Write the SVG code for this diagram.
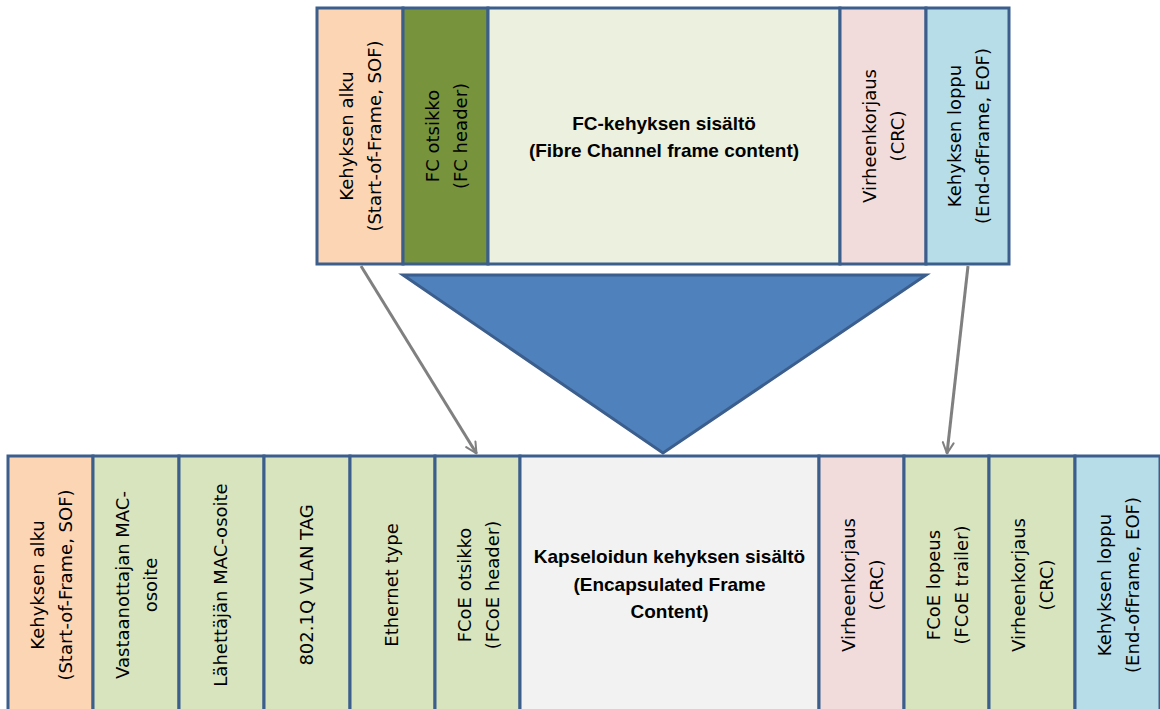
<svg xmlns="http://www.w3.org/2000/svg" width="1160" height="709" viewBox="0 0 1160 709">
<style>
.cell{stroke:#3B5E8C;stroke-width:3}
.sof{fill:#FCD5B5}
.fch{fill:#77933C}
.fcc{fill:#EBF1DE}
.crc{fill:#F2DCDB}
.eof{fill:#B7DEE8}
.grn{fill:#D7E4BD}
.enc{fill:#F2F2F2}
.t{font-family:"DejaVu Sans",sans-serif;font-size:18px;fill:#000;text-anchor:middle}
.b{font-family:"Liberation Sans",Arial,sans-serif;font-size:19px;font-weight:bold;fill:#000;text-anchor:middle}
.conn{stroke:#808080;stroke-width:3;fill:none}
</style>
<defs>
<marker id="ah" viewBox="0 0 10 10" refX="9" refY="5" markerWidth="4.5" markerHeight="4.5" orient="auto" markerUnits="strokeWidth">
<path d="M1,1 L9,5 L1,9" fill="none" stroke="#808080" stroke-width="1.5" stroke-linecap="round" stroke-linejoin="round"/>
</marker>
</defs>
<rect width="1160" height="709" fill="#FFFFFF"/>

<g id="fc-frame">
<g id="fc-sof"><rect class="cell sof" x="317" y="8" width="86" height="256"/>
<text class="t" transform="translate(360,136) rotate(-90)"><tspan x="0" y="-7">Kehyksen alku</tspan><tspan x="0" y="21">(Start-of-Frame, SOF)</tspan></text></g>
<g id="fc-header"><rect class="cell fch" x="403" y="8" width="85" height="256"/>
<text class="t" transform="translate(445.5,136) rotate(-90)"><tspan x="0" y="-7">FC otsikko</tspan><tspan x="0" y="21">(FC header)</tspan></text></g>
<g id="fc-content"><rect class="cell fcc" x="488" y="8" width="352" height="256"/>
<text class="b" x="664" y="130">FC-kehyksen sisältö</text>
<text class="b" x="664" y="157">(Fibre Channel frame content)</text></g>
<g id="fc-crc"><rect class="cell crc" x="840" y="8" width="86" height="256"/>
<text class="t" transform="translate(883,136) rotate(-90)"><tspan x="0" y="-7">Virheenkorjaus</tspan><tspan x="0" y="21">(CRC)</tspan></text></g>
<g id="fc-eof"><rect class="cell eof" x="926" y="8" width="83" height="256"/>
<text class="t" transform="translate(967.5,136) rotate(-90)"><tspan x="0" y="-7">Kehyksen loppu</tspan><tspan x="0" y="21">(End-ofFrame, EOF)</tspan></text></g>
</g>

<g id="encapsulation">
<polygon points="403,275 926,275 663,453" fill="#4F81BD" stroke="#3B5E8C" stroke-width="3" stroke-linejoin="miter"/>
</g>

<g id="fcoe-frame">
<g id="e-sof"><rect class="cell sof" x="8" y="456" width="85" height="262"/>
<text class="t" transform="translate(50.5,585) rotate(-90)"><tspan x="0" y="-7">Kehyksen alku</tspan><tspan x="0" y="21">(Start-of-Frame, SOF)</tspan></text></g>
<g id="e-dst"><rect class="cell grn" x="93" y="456" width="86" height="262"/>
<text class="t" transform="translate(136,585) rotate(-90)"><tspan x="0" y="-7">Vastaanottajan MAC-</tspan><tspan x="0" y="21">osoite</tspan></text></g>
<g id="e-src"><rect class="cell grn" x="179" y="456" width="85" height="262"/>
<text class="t" transform="translate(221.5,585) rotate(-90)"><tspan x="0" y="5.5">Lähettäjän MAC-osoite</tspan></text></g>
<g id="e-vlan"><rect class="cell grn" x="264" y="456" width="86" height="262"/>
<text class="t" transform="translate(307,585) rotate(-90)"><tspan x="0" y="5.5">802.1Q VLAN TAG</tspan></text></g>
<g id="e-type"><rect class="cell grn" x="350" y="456" width="85" height="262"/>
<text class="t" transform="translate(392.5,585) rotate(-90)"><tspan x="0" y="5.5">Ethernet type</tspan></text></g>
<g id="e-fcoeh"><rect class="cell grn" x="435" y="456" width="85" height="262"/>
<text class="t" transform="translate(477.5,585) rotate(-90)"><tspan x="0" y="-7">FCoE otsikko</tspan><tspan x="0" y="21">(FCoE header)</tspan></text></g>
<g id="e-content"><rect class="cell enc" x="520" y="456" width="299" height="262"/>
<text class="b" x="669.5" y="563">Kapseloidun kehyksen  sisältö</text>
<text class="b" x="669.5" y="591">(Encapsulated Frame</text>
<text class="b" x="669.5" y="618">Content)</text></g>
<g id="e-crc1"><rect class="cell crc" x="819" y="456" width="85" height="262"/>
<text class="t" transform="translate(861.5,585) rotate(-90)"><tspan x="0" y="-7">Virheenkorjaus</tspan><tspan x="0" y="21">(CRC)</tspan></text></g>
<g id="e-trailer"><rect class="cell grn" x="904" y="456" width="85" height="262"/>
<text class="t" transform="translate(946.5,585) rotate(-90)"><tspan x="0" y="-7">FCoE lopeus</tspan><tspan x="0" y="21">(FCoE trailer)</tspan></text></g>
<g id="e-crc2"><rect class="cell grn" x="989" y="456" width="86" height="262"/>
<text class="t" transform="translate(1032,585) rotate(-90)"><tspan x="0" y="-7">Virheenkorjaus</tspan><tspan x="0" y="21">(CRC)</tspan></text></g>
<g id="e-eof"><rect class="cell eof" x="1075" y="456" width="85" height="262"/>
<text class="t" transform="translate(1117.5,585) rotate(-90)"><tspan x="0" y="-7">Kehyksen loppu</tspan><tspan x="0" y="21">(End-ofFrame, EOF)</tspan></text></g>
</g>

<g id="connectors">
<line class="conn" x1="361" y1="266" x2="476.5" y2="453.5" marker-end="url(#ah)"/>
<line class="conn" x1="968" y1="266" x2="947" y2="453.5" marker-end="url(#ah)"/>
</g>
</svg>
